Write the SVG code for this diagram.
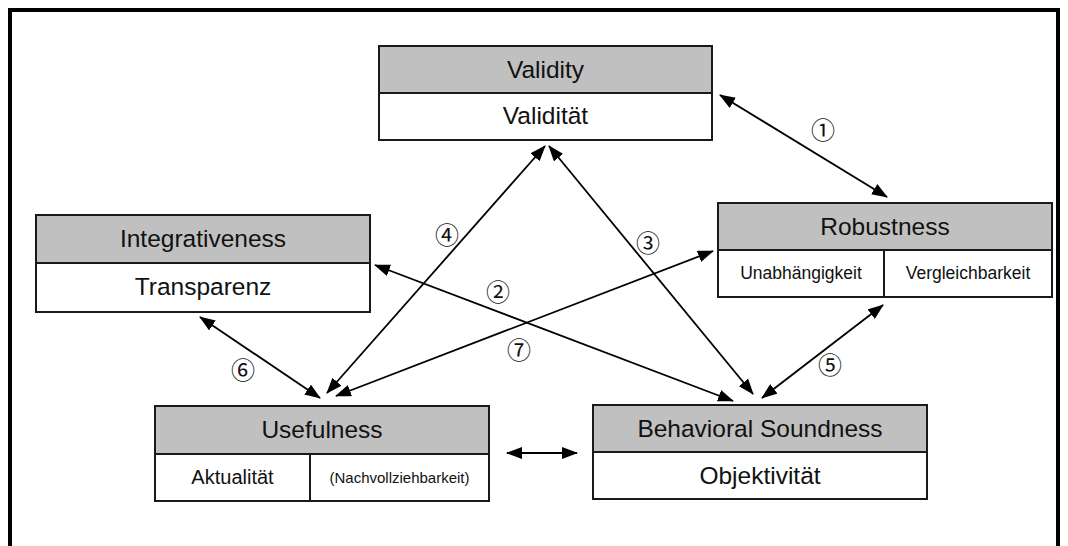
<svg xmlns="http://www.w3.org/2000/svg" width="1068" height="546" viewBox="0 0 1068 546">
<style>
.box{fill:#fff;stroke:#1a1a1a;stroke-width:2}
.hd{fill:#c0c0c0;stroke:#1a1a1a;stroke-width:2}
.dv{stroke:#1a1a1a;stroke-width:2;fill:none}
.t{font-family:"Liberation Sans",Arial,sans-serif;fill:#111;text-anchor:middle}
.big{font-size:24.5px}
.mid{font-size:17.5px}
.num{font-family:"Noto Sans CJK JP","DejaVu Sans",sans-serif;font-size:24px;fill:#111;text-anchor:middle}
.c{stroke:#000;stroke-width:1.8;fill:none;marker-start:url(#ah);marker-end:url(#ah)}
</style>
<defs>
<marker id="ah" markerUnits="userSpaceOnUse" markerWidth="16" markerHeight="12" refX="15" refY="6" orient="auto-start-reverse" viewBox="0 0 16 12">
<path d="M0,0 L16,6 L0,12 z" fill="#000"/>
</marker>
</defs>
<rect width="1068" height="546" fill="#fff"/>
<path d="M10,546 L10,10 L1058,10 L1058,546" fill="none" stroke="#000" stroke-width="4"/>

<g id="validity">
<rect class="box" x="379" y="46" width="333" height="94"/>
<rect class="hd" x="379" y="46" width="333" height="47"/>
<text class="t big" x="545.5" y="78">Validity</text>
<text class="t big" x="545.5" y="124">Validität</text>
</g>

<g id="integrativeness">
<rect class="box" x="36" y="215" width="334" height="97"/>
<rect class="hd" x="36" y="215" width="334" height="48"/>
<text class="t big" x="203" y="247">Integrativeness</text>
<text class="t big" x="203" y="295">Transparenz</text>
</g>

<g id="robustness">
<rect class="box" x="718" y="203" width="334" height="94"/>
<rect class="hd" x="718" y="203" width="334" height="47"/>
<line class="dv" x1="884" y1="250" x2="884" y2="297"/>
<text class="t big" x="885" y="235">Robustness</text>
<text class="t mid" x="801" y="279">Unabhängigkeit</text>
<text class="t mid" x="968" y="279">Vergleichbarkeit</text>
</g>

<g id="usefulness">
<rect class="box" x="155" y="406" width="334" height="95"/>
<rect class="hd" x="155" y="406" width="334" height="48"/>
<line class="dv" x1="310" y1="454" x2="310" y2="501"/>
<text class="t big" x="322" y="438">Usefulness</text>
<text class="t" style="font-size:20px" x="232.5" y="484">Aktualität</text>
<text class="t" style="font-size:15px" x="399.5" y="483">(Nachvollziehbarkeit)</text>
</g>

<g id="behavioral">
<rect class="box" x="593" y="405" width="334" height="94"/>
<rect class="hd" x="593" y="405" width="334" height="47"/>
<text class="t big" x="760" y="437">Behavioral Soundness</text>
<text class="t big" x="760" y="484">Objektivität</text>
</g>

<g id="connectors">
<line class="c" x1="720" y1="95" x2="887" y2="197"/>
<line class="c" x1="375" y1="265" x2="733" y2="401"/>
<line class="c" x1="549" y1="146" x2="753" y2="394"/>
<line class="c" x1="545" y1="146" x2="327" y2="393"/>
<line class="c" x1="883" y1="305" x2="762" y2="398"/>
<line class="c" x1="200" y1="317" x2="320" y2="398"/>
<line class="c" x1="713" y1="251" x2="336" y2="396"/>
<line class="c" x1="507" y1="453" x2="577" y2="453"/>
</g>

<g id="labels">
<text class="num" x="823" y="139">①</text>
<text class="num" x="498" y="301">②</text>
<text class="num" x="648" y="252">③</text>
<text class="num" x="447" y="244">④</text>
<text class="num" x="830" y="374">⑤</text>
<text class="num" x="243" y="379">⑥</text>
<text class="num" x="519" y="359">⑦</text>
</g>
</svg>
